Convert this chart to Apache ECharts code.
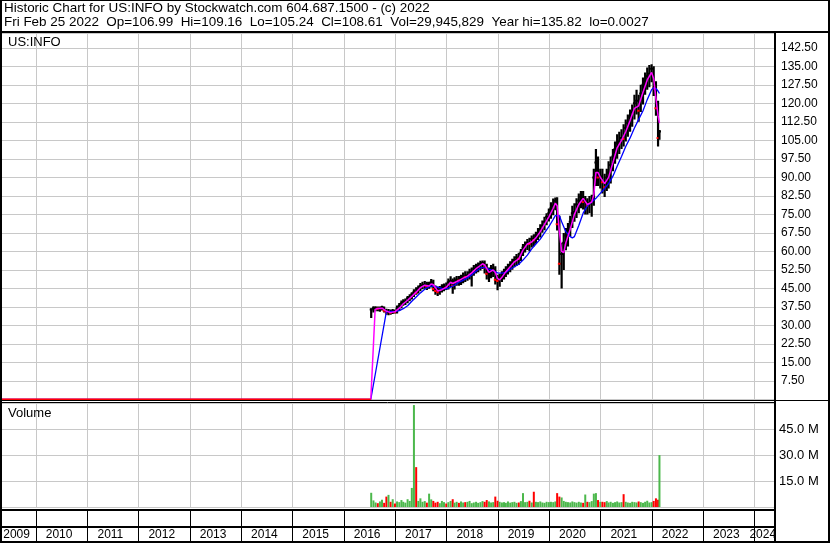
<!DOCTYPE html>
<html><head><meta charset="utf-8">
<script src="https://cdn.jsdelivr.net/npm/echarts@6/dist/echarts.min.js"></script>
<style>html,body{margin:0;padding:0;background:#fff}#c{width:830px;height:543px}</style>
</head><body><div id="c"></div>
<script>
const headerLine1 = 'Historic Chart for US:INFO by Stockwatch.com 604.687.1500 - (c) 2022';
const headerLine2 = 'Fri Feb 25 2022  Op=106.99  Hi=109.16  Lo=105.24  Cl=108.61  Vol=29,945,829  Year hi=135.82  lo=0.0027';
const symbolLabel = 'US:INFO';
const volumeLabel = 'Volume';

const axisStart = '2009-05-06';
const axisEnd = '2024-05-20';
const yearBoundaries = ['2010-01-01','2011-01-01','2012-01-01','2013-01-01','2014-01-01','2015-01-01','2016-01-01','2017-01-01','2018-01-01','2019-01-01','2020-01-01','2021-01-01','2022-01-01','2023-01-01','2024-01-01'];
const yearLabels = ['2009','2010','2011','2012','2013','2014','2015','2016','2017','2018','2019','2020','2021','2022','2023','2024'];
const yearLabelDates = ['2009-08-18','2010-06-16','2011-06-16','2012-06-16','2013-06-16','2014-06-16','2015-06-16','2016-06-16','2017-06-16','2018-06-16','2019-06-16','2020-06-16','2021-06-16','2022-06-16','2023-06-16','2024-03-01'];

const priceMin = 0, priceMax = 148.5, priceStep = 7.5;
const volMin = 0, volMax = 60, volStep = 15;

// before listing the quoted price is 0
const preDates = ['2009-05-06','2016-07-12'];
const preClose = [0, 0];

const periods = [
'2016-07-15','2016-07-31','2016-08-15','2016-08-31','2016-09-15','2016-09-30','2016-10-15','2016-10-31','2016-11-15','2016-11-30','2016-12-15','2016-12-31',
'2017-01-15','2017-01-31','2017-02-15','2017-02-28','2017-03-15','2017-03-31','2017-04-15','2017-04-30','2017-05-15','2017-05-31','2017-06-15','2017-06-30','2017-07-15','2017-07-31','2017-08-15','2017-08-31','2017-09-15','2017-09-30','2017-10-15','2017-10-31','2017-11-15','2017-11-30','2017-12-15','2017-12-31',
'2018-01-15','2018-01-31','2018-02-15','2018-02-28','2018-03-15','2018-03-31','2018-04-15','2018-04-30','2018-05-15','2018-05-31','2018-06-15','2018-06-30','2018-07-15','2018-07-31','2018-08-15','2018-08-31','2018-09-15','2018-09-30','2018-10-15','2018-10-31','2018-11-15','2018-11-30','2018-12-15','2018-12-31',
'2019-01-15','2019-01-31','2019-02-15','2019-02-28','2019-03-15','2019-03-31','2019-04-15','2019-04-30','2019-05-15','2019-05-31','2019-06-15','2019-06-30','2019-07-15','2019-07-31','2019-08-15','2019-08-31','2019-09-15','2019-09-30','2019-10-15','2019-10-31','2019-11-15','2019-11-30','2019-12-15','2019-12-31',
'2020-01-15','2020-01-31','2020-02-15','2020-02-28','2020-03-15','2020-03-31','2020-04-15','2020-04-30','2020-05-15','2020-05-31','2020-06-15','2020-06-30','2020-07-15','2020-07-31','2020-08-15','2020-08-31','2020-09-15','2020-09-30','2020-10-15','2020-10-31','2020-11-15','2020-11-30','2020-12-15','2020-12-31',
'2021-01-15','2021-01-31','2021-02-15','2021-02-28','2021-03-15','2021-03-31','2021-04-15','2021-04-30','2021-05-15','2021-05-31','2021-06-15','2021-06-30','2021-07-15','2021-07-31','2021-08-15','2021-08-31','2021-09-15','2021-09-30','2021-10-15','2021-10-31','2021-11-15','2021-11-30','2021-12-15','2021-12-31',
'2022-01-15','2022-01-31','2022-02-15','2022-02-25'];

const close = [
36.5,37,37,36.8,37,37.3,36,35.2,35.5,35.2,35.8,35.4,
37,38,39,39.5,39.8,41,41.5,42.5,43.5,43.3,45,46,46.2,46.5,45.8,46.5,47.5,44.8,44,43.5,44.5,45.2,45.5,45.2,
47.5,48,46,48,48.5,48.2,49,50,49.5,50.3,51.5,51.6,53,53.5,54,55,55.3,53.5,51,51.5,52.5,53,48.5,48,
49.5,50.5,51.5,52.5,53.5,54.5,55.5,56.5,57.5,57,59.5,61.5,62.5,63.5,63,65,64.5,66.5,67.5,69,70.5,72,74,75.5,
77.5,78.5,80.5,71,55,59,63.5,66.5,68.5,72,75.5,76,79,80.5,82,80,80.3,78.5,79.5,80.5,90,96,90,90.5,
88,86,90,92,95,98.5,101.5,104,104.5,106,105.5,110,112,114.5,116.5,120,121,117,124,127.5,129,131,132,134,
126,118,106,108.61];
const high = [
37,37.8,37.8,37.7,37.7,38,37.7,36.8,36.7,36.5,36.7,36.5,
38.1,39.1,40.1,40.6,40.9,41.9,42.6,43.5,44.7,45.5,46.2,47.2,47.7,48,47.7,47.7,48.8,48.5,46.2,45.7,46,46.7,47,47.4,
49,49.9,49,49.5,50,50,50.5,51.5,52,52,53,53.5,54.5,55,55.5,56.2,56.3,56.3,55,53.5,54.5,55,54,50.5,
51,52,53,54,55,56,57,58,59,59.5,61,63,64,65,65.5,66.5,67,68,69.5,71,72.5,74,75.5,77.4,
79.9,81.4,81.8,81.9,74.5,63.5,67.5,69.5,71.5,74.5,78.5,79.5,81.5,83.5,84.5,84.5,82.5,81.5,82.5,83,93.5,101.5,98.5,93.5,
93.5,91.5,93.5,96.5,98.5,101.5,104.5,107.5,108.5,109.5,111.5,113.5,115.5,117.5,119.5,123.5,125.5,123.5,127.5,130.5,132.5,134.5,135.5,135.8,
135,129,121,109.16];
const low = [
33,35.3,35.8,35.8,35.6,36.1,35.3,34.3,34.1,34.3,34.6,34.8,
34.8,36,37,38,38.3,39,39.8,40.5,41.5,42.4,42.9,43.9,44.7,44.9,44.4,44.9,45.4,43.9,42.4,41.9,42.4,43.4,43.9,44.4,
44.6,45.6,42.8,44.6,46.1,46.1,46.4,47.1,47.6,48.1,48.6,45.8,50.1,51.1,51.6,52.3,52.9,51.1,48.6,47.6,49.1,49.6,46.6,44.3,
45.7,47.6,48.6,49.6,50.6,51.6,52.6,53.6,54.1,54.6,56.1,58.1,59.6,60.6,60.1,61.6,62.1,63.1,64.6,65.6,67.6,68.6,70.6,72.1,
73.2,74.7,76.7,68.5,50.5,45,52.5,60.5,62,66,69.5,72,73.5,75.5,77.5,77,75,75,75.5,74,78.5,86.5,86.5,85.5,
83.5,82,84.5,85.5,87.5,92.5,95.5,97.5,99.5,101.5,102.5,104.5,106.5,108.5,110.5,113.5,115.5,112.5,116.5,119.5,123.5,125.5,126.5,128.5,
123,115,102.5,105.24];
const volumeM = [
8.2,3.8,2.6,2.2,3.2,4.2,2.4,6.0,7.0,3.0,4.5,2.0,
3.2,2.8,4.0,3.0,2.5,4.5,3.5,11,58.8,23,3.5,5.0,3.0,3.4,2.5,7.7,4.4,3.5,2.5,3.0,2.2,3.5,2.8,2.0,
2.8,3.5,4.5,2.5,3.0,2.4,3.2,2.6,2.8,3.0,3.5,2.2,2.6,3.0,2.4,2.8,3.4,3.0,4.0,3.2,2.6,2.8,6.0,3.6,
3.0,2.6,2.8,2.4,3.2,2.5,2.8,3.0,2.4,2.6,3.4,8.0,2.8,3.0,3.6,2.6,8.8,3.0,2.8,3.2,2.6,2.4,3.0,2.8,
3.0,2.8,3.2,8.0,6.0,5.5,3.5,3.0,2.8,2.6,3.2,2.8,2.5,3.0,2.6,2.4,7.2,3.0,2.8,3.4,7.7,8.0,4.0,3.0,
3.0,2.8,3.4,2.6,3.0,2.4,2.8,3.2,2.6,2.8,7.4,3.0,2.6,2.4,3.0,2.8,2.6,3.2,2.8,2.4,3.0,3.6,2.6,2.8,
3.5,5.0,4.2,29.95];

const maFastDates = ['2009-05-06','2016-07-12','2016-08-12','2016-08-31','2016-09-30','2016-10-31','2016-11-30','2016-12-31',
'2017-01-31','2017-02-28','2017-03-31','2017-04-30','2017-05-31','2017-06-30','2017-07-31','2017-08-31','2017-09-15','2017-09-30','2017-10-31','2017-11-30','2017-12-31',
'2018-01-31','2018-02-15','2018-02-28','2018-03-31','2018-04-30','2018-05-31','2018-06-30','2018-07-31','2018-08-31','2018-09-15','2018-09-30','2018-10-31','2018-11-30','2018-12-15','2018-12-31',
'2019-01-15','2019-01-31','2019-02-28','2019-03-31','2019-04-30','2019-05-31','2019-06-30','2019-07-31','2019-08-31','2019-09-30','2019-10-31','2019-11-30','2019-12-31',
'2020-01-31','2020-02-15','2020-02-28','2020-03-15','2020-03-31','2020-04-15','2020-04-30','2020-05-31','2020-06-30','2020-07-31','2020-08-31','2020-09-30','2020-10-31','2020-11-15','2020-11-30','2020-12-15','2020-12-31',
'2021-01-31','2021-02-28','2021-03-31','2021-04-30','2021-05-31','2021-06-30','2021-07-31','2021-08-31','2021-09-30','2021-10-31','2021-11-30','2021-12-31',
'2022-01-15','2022-01-31','2022-02-15','2022-02-25'];
const maFastValues = [0,0,36.5,36.9,37,35.8,35.2,35.6,
37,38.8,40.2,41.8,43.5,45.3,46.3,46,46.8,46.5,44,44.5,45.5,
47.5,47,46.5,48.2,49.2,50,51.3,53,54.3,55,54.5,51.5,52.5,51.5,49,
48.5,49.5,51.8,53.8,55.8,57,60.5,63,63.8,65.5,68,71,74,
77.5,79.5,78.5,68,60,59.5,63.5,69,75,79,81.5,79,80,83,92,92,90,
87.5,90,96,102,105,108.5,113,118,119,124.5,129.5,132.5,
130,122,115,112];

const maSlowDates = ['2009-05-06','2016-07-12','2016-10-31','2016-11-30','2016-12-31',
'2017-01-31','2017-02-28','2017-03-31','2017-04-30','2017-05-31','2017-06-30','2017-07-31','2017-08-31','2017-09-30','2017-10-31','2017-11-30','2017-12-31',
'2018-01-31','2018-02-28','2018-03-31','2018-04-30','2018-05-31','2018-06-30','2018-07-31','2018-08-31','2018-09-30','2018-10-31','2018-11-30','2018-12-31',
'2019-01-31','2019-02-28','2019-03-31','2019-04-30','2019-05-31','2019-06-30','2019-07-31','2019-08-31','2019-09-30','2019-10-31','2019-11-30','2019-12-31',
'2020-01-31','2020-02-15','2020-02-28','2020-03-15','2020-03-31','2020-04-30','2020-05-31','2020-06-15','2020-06-30','2020-07-31','2020-08-31','2020-09-30','2020-10-31','2020-11-30','2020-12-31',
'2021-01-31','2021-02-28','2021-03-31','2021-04-30','2021-05-31','2021-06-30','2021-07-31','2021-08-31','2021-09-30','2021-10-31','2021-11-30','2021-12-31',
'2022-01-15','2022-01-31','2022-02-15','2022-02-25'];
const maSlowValues = [0,0,35.6,35.7,35.6,
36,36.8,38,39.8,41.5,43.2,44.7,45.7,46,45.5,45,44.8,
45.5,46.3,47.5,48.3,49.3,50.5,52,53.3,53.5,52.8,52.2,51.3,
51.2,51.5,52.8,53.8,54.8,56.5,58.5,61,63,65,67.5,70,
73,74.5,75,74.5,72,68,66,65.5,66,70.5,75.5,78.5,80,81.5,83.5,
85.5,87.5,90.5,94.5,98.5,102.5,106,110,113.5,117,121.5,125.5,
126.3,126,125,124];

const upColor = '#4cb84c', downColor = '#ff0000';
const gridGray = '#c8c8c8';
const FONT = "'Liberation Sans', Arial, sans-serif";

const ts = d => new Date(d).getTime();
const xMin = ts(axisStart), xMax = ts(axisEnd);
const isDown = i => i > 0 && close[i] < close[i - 1];
const labelTs = yearLabelDates.map(ts);

const chart = echarts.init(document.getElementById('c'), null, {renderer: 'canvas', width: 830, height: 543});

const baseX = gridIndex => ({
  type: 'value', gridIndex, min: xMin, max: xMax,
  axisLine: {show: false}, axisTick: {show: false}, axisLabel: {show: false}, splitLine: {show: false}
});

// vertical year separators drawn through the x scale of each grid
const yearLineSeries = (gridIndex, color) => ({
  type: 'custom', name: 'years' + gridIndex, xAxisIndex: gridIndex, yAxisIndex: gridIndex, z: 1, silent: true,
  data: yearBoundaries.map(d => [ts(d), 0]),
  encode: {x: 0},
  renderItem: (params, api) => {
    const cs = params.coordSys;
    const x = Math.round(api.coord([api.value(0), 0])[0]) + 0.5;
    return {type: 'line', shape: {x1: x, y1: cs.y, x2: x, y2: cs.y + cs.height}, style: {stroke: color, lineWidth: 1}};
  }
});

const option = {
  animation: false,
  backgroundColor: '#fff',
  title: [
    {text: headerLine1, left: 4, top: 2, padding: 0, textStyle: {fontFamily: FONT, fontSize: 13.45, fontWeight: 'normal', color: '#000'}},
    {text: headerLine2, left: 4, top: 16, padding: 0, textStyle: {fontFamily: FONT, fontSize: 13.45, fontWeight: 'normal', color: '#000'}},
    {text: symbolLabel, left: 8, top: 36, padding: 0, textStyle: {fontFamily: FONT, fontSize: 13, fontWeight: 'normal', color: '#000'}},
    {text: volumeLabel, left: 8, top: 407, padding: 0, textStyle: {fontFamily: FONT, fontSize: 13, fontWeight: 'normal', color: '#000'}}
  ],
  grid: [
    {left: 2, right: 56, top: 33, bottom: 143.5},
    {left: 2, right: 56, top: 403, bottom: 36},
    {left: 2, right: 56, top: 511, bottom: 16},
    {left: 2, right: 56, top: 528, bottom: 1}
  ],
  xAxis: [
    baseX(0), baseX(1), baseX(2), baseX(3),
    {
      type: 'value', gridIndex: 3, min: xMin, max: xMax, position: 'top',
      axisLine: {show: false}, axisTick: {show: false}, splitLine: {show: false},
      axisLabel: {
        show: true, inside: true, margin: 1, hideOverlap: false,
        customValues: labelTs,
        formatter: v => { const k = labelTs.indexOf(v); return k >= 0 ? yearLabels[k] : ''; },
        fontFamily: FONT, fontSize: 12, color: '#000'
      }
    }
  ],
  yAxis: [
    {
      type: 'value', gridIndex: 0, position: 'right', min: priceMin, max: priceMax, interval: priceStep,
      axisLine: {show: false}, axisTick: {show: false},
      axisLabel: {margin: 7, showMinLabel: false, showMaxLabel: false, formatter: v => v.toFixed(2),
        fontFamily: FONT, fontSize: 12, color: '#000'},
      splitLine: {show: true, lineStyle: {color: gridGray, width: 1}}
    },
    {
      type: 'value', gridIndex: 1, position: 'right', min: volMin, max: volMax, interval: volStep,
      axisLine: {show: false}, axisTick: {show: false},
      axisLabel: {margin: 5, formatter: v => (v > 0 && v < volMax) ? v.toFixed(1) + ' M' : '',
        fontFamily: FONT, fontSize: 13, color: '#000'},
      splitLine: {show: true, lineStyle: {color: gridGray, width: 1}}
    },
    {type: 'value', gridIndex: 2, show: false, min: 0, max: 1},
    {type: 'value', gridIndex: 3, show: false, min: 0, max: 1}
  ],
  series: [
    yearLineSeries(0, gridGray),
    yearLineSeries(1, gridGray),
    yearLineSeries(2, '#000'),
    yearLineSeries(3, '#000'),
    {
      type: 'custom', name: 'price', xAxisIndex: 0, yAxisIndex: 0, clip: true, z: 3,
      data: periods.map((d, i) => [ts(d), low[i], high[i], close[i], isDown(i) ? 1 : 0]),
      encode: {x: 0, y: [1, 2]},
      renderItem: (params, api) => {
        const t = api.value(0);
        const lo = api.coord([t, api.value(1)]);
        const hi = api.coord([t, api.value(2)]);
        const cl = api.coord([t, api.value(3)]);
        return {type: 'group', children: [
          {type: 'line', shape: {x1: lo[0], y1: lo[1], x2: hi[0], y2: hi[1]}, style: {stroke: '#000', lineWidth: 2.2}},
          {type: 'rect', shape: {x: cl[0] - 1.5, y: cl[1] - 1, width: 3, height: 2}, style: {fill: api.value(4) ? downColor : '#000'}}
        ]};
      }
    },
    {
      type: 'line', name: 'ma slow', xAxisIndex: 0, yAxisIndex: 0, showSymbol: false, z: 4,
      data: maSlowDates.map((d, i) => [ts(d), maSlowValues[i]]),
      lineStyle: {color: '#0000ff', width: 1.3}
    },
    {
      type: 'line', name: 'ma fast', xAxisIndex: 0, yAxisIndex: 0, showSymbol: false, z: 5,
      data: maFastDates.map((d, i) => [ts(d), maFastValues[i]]),
      lineStyle: {color: '#ff00ff', width: 1.5}
    },
    {
      type: 'line', name: 'pre', xAxisIndex: 0, yAxisIndex: 0, showSymbol: false, z: 6,
      data: preDates.map((d, i) => [ts(d), preClose[i]]),
      lineStyle: {color: '#ff0000', width: 2}
    },
    {
      type: 'bar', name: 'volume', xAxisIndex: 1, yAxisIndex: 1, barWidth: 2, z: 3,
      data: periods.map((d, i) => ({value: [ts(d), volumeM[i]], itemStyle: {color: isDown(i) ? downColor : upColor}}))
    }
  ],
  graphic: [
    {type: 'line', z: 100, shape: {x1: 0, y1: 0.5, x2: 830, y2: 0.5}, style: {stroke: '#000', lineWidth: 1}},
    {type: 'line', z: 100, shape: {x1: 1, y1: 0, x2: 1, y2: 543}, style: {stroke: '#000', lineWidth: 2}},
    {type: 'line', z: 100, shape: {x1: 829, y1: 0, x2: 829, y2: 543}, style: {stroke: '#000', lineWidth: 2}},
    {type: 'line', z: 100, shape: {x1: 0, y1: 32, x2: 830, y2: 32}, style: {stroke: '#000', lineWidth: 2}},
    {type: 'line', z: 100, shape: {x1: 775, y1: 32, x2: 775, y2: 543}, style: {stroke: '#000', lineWidth: 2}},
    {type: 'line', z: 100, shape: {x1: 0, y1: 400.5, x2: 830, y2: 400.5}, style: {stroke: '#000', lineWidth: 1}},
    {type: 'line', z: 100, shape: {x1: 0, y1: 402.5, x2: 775, y2: 402.5}, style: {stroke: '#000', lineWidth: 1}},
    {type: 'line', z: 100, shape: {x1: 0, y1: 510, x2: 775, y2: 510}, style: {stroke: '#000', lineWidth: 2}},
    {type: 'line', z: 100, shape: {x1: 0, y1: 527, x2: 775, y2: 527}, style: {stroke: '#000', lineWidth: 2}},
    {type: 'line', z: 100, shape: {x1: 0, y1: 542, x2: 830, y2: 542}, style: {stroke: '#000', lineWidth: 2}}
  ]
};
chart.setOption(option);
</script></body></html>
